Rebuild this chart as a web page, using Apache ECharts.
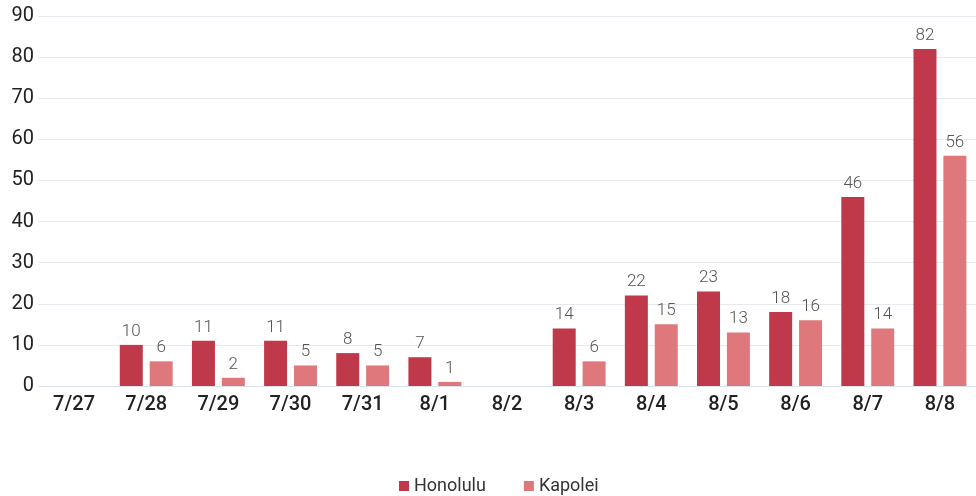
<!DOCTYPE html>
<html><head><meta charset="utf-8">
<script src="https://cdn.jsdelivr.net/npm/echarts@6/dist/echarts.min.js"></script>
<style>html,body{margin:0;padding:0;background:#fff;overflow:hidden}#c{width:976px;height:496px}</style>
</head><body><div id="c"></div>
<script>
const categories = ['7/27','7/28','7/29','7/30','7/31','8/1','8/2','8/3','8/4','8/5','8/6','8/7','8/8'];
const honolulu = [0,10,11,11,8,7,0,14,22,23,18,46,82];
const kapolei  = [0,6,2,5,5,1,0,6,15,13,16,14,56];
const yTicks = [0,10,20,30,40,50,60,70,80,90];

const chart = echarts.init(document.getElementById('c'), null, {renderer:'canvas'});
const font = 'Roboto, "Noto Sans", sans-serif';
const lbl = {show:true, position:'top', distance:5, color:'#555', fontSize:17, fontFamily:font, fontWeight:300,
  formatter: p => p.value === 0 ? '' : String(p.value)};
chart.setOption({
  animation:false,
  grid:{left:38, right:-4, top:16, bottom:110},
  legend:{top:472, left:394, itemWidth:10, itemHeight:10, itemGap:38, icon:'rect',
    textStyle:{fontSize:18, color:'#333', fontFamily:font}, data:['Honolulu','Kapolei']},
  xAxis:{type:'category', data:categories,
    axisLine:{show:true, lineStyle:{color:'#dde3ec'}}, axisTick:{show:false},
    axisLabel:{color:'#222', fontSize:20, fontFamily:font, fontWeight:500, margin:9}},
  yAxis:{type:'value', min:yTicks[0], max:yTicks[yTicks.length-1], interval:10,
    axisLine:{show:false}, axisTick:{show:false},
    splitLine:{lineStyle:{color:'#e6eaf0'}},
    axisLabel:{color:'#222', fontSize:20, fontFamily:font, margin:4, verticalAlign:'middle', padding:[0,0,10,0]}},
  series:[
    {name:'Honolulu', type:'bar', data:honolulu, barWidth:23, barGap:'30%', itemStyle:{color:'#c0394a'}, label:lbl},
    {name:'Kapolei', type:'bar', data:kapolei, barWidth:23, itemStyle:{color:'#de787c'}, label:lbl}
  ]
});
</script></body></html>
